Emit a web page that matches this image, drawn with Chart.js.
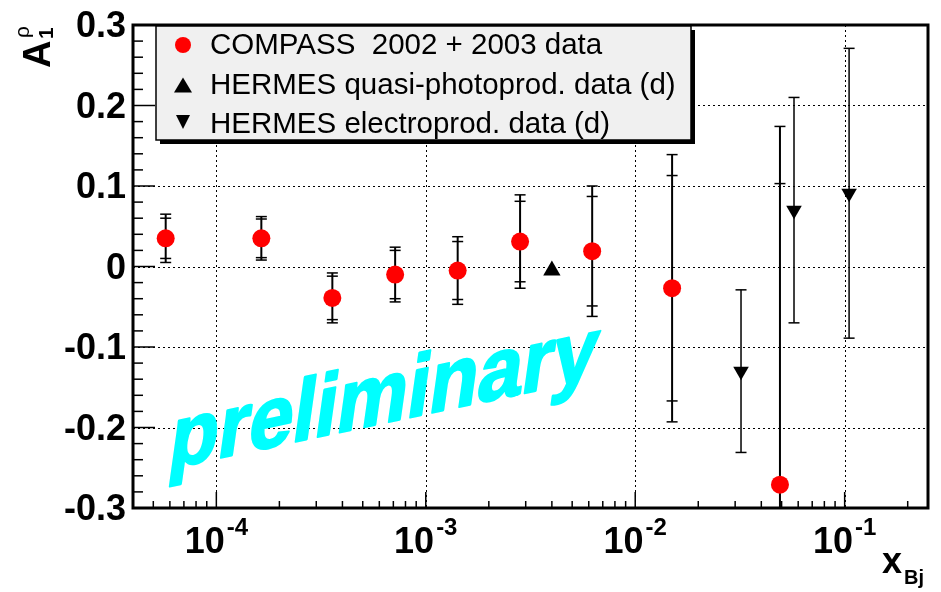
<!DOCTYPE html>
<html>
<head>
<meta charset="utf-8">
<script src="https://cdn.jsdelivr.net/npm/chart.js@4"></script>
<style>
  html, body { margin: 0; padding: 0; background: #fff; }
  canvas { display: block; }
</style>
</head>
<body>
<canvas id="chart" width="941" height="592"></canvas>
<script>
// COMPASS 2002 + 2003 (x, A1, erro estatístico, erro total)
const compassX = [5.73e-5, 1.64e-4, 3.58e-4, 7.14e-4, 1.42e-3, 2.82e-3, 6.23e-3, 1.50e-2, 4.91e-2];
const compassY = [0.035, 0.035, -0.039, -0.010, -0.005, 0.031, 0.019, -0.027, -0.271];
const compassStat = [0.025, 0.024, 0.027, 0.030, 0.036, 0.050, 0.068, 0.140, 0.374];
const compassTot = [0.030, 0.027, 0.031, 0.034, 0.042, 0.058, 0.081, 0.166, 0.445];

// HERMES quasi-photoprod.
const hermesPhotoX = [4.0e-3];
const hermesPhotoY = [-0.005];

// HERMES electroprod.
const hermesElX = [0.032, 0.0573, 0.105];
const hermesElY = [-0.130, 0.070, 0.091];
const hermesElErr = [0.101, 0.140, 0.180];

// Eixos
const yTicks = [-0.3, -0.2, -0.1, 0, 0.1, 0.2, 0.3];
const yTickLabels = ['-0.3', '-0.2', '-0.1', '0', '0.1', '0.2', '0.3'];
const xTicks = [1e-4, 1e-3, 1e-2, 1e-1];
const xTickExp = ['-4', '-3', '-2', '-1'];

const legendLabels = ['COMPASS  2002 + 2003 data', 'HERMES quasi-photoprod. data (d)', 'HERMES electroprod. data (d)'];

const FONT = '"Liberation Sans", Arial, Helvetica, sans-serif';

function toPoints(xs, ys) {
  return xs.map((x, i) => ({ x: x, y: ys[i] }));
}

// Barra de erro vertical com traços nas pontas
function errorBar(ctx, px, py, x, y, errs, lw) {
  const cx = px.getPixelForValue(x);
  const top = py.getPixelForValue(y + Math.max(...errs));
  const bot = py.getPixelForValue(y - Math.max(...errs));
  ctx.lineWidth = lw;
  ctx.beginPath();
  ctx.moveTo(cx, top);
  ctx.lineTo(cx, bot);
  ctx.stroke();
  ctx.lineWidth = 1.5;
  errs.forEach(e => {
    [y + e, y - e].forEach(v => {
      const yy = py.getPixelForValue(v);
      ctx.beginPath();
      ctx.moveTo(cx - 5.5, yy);
      ctx.lineTo(cx + 5.5, yy);
      ctx.stroke();
    });
  });
}

const rootStyle = {
  id: 'rootStyle',
  beforeDraw(chart) {
    const ctx = chart.ctx;
    ctx.save();
    ctx.fillStyle = '#fff';
    ctx.fillRect(0, 0, chart.width, chart.height);
    ctx.restore();
  },
  beforeDatasetsDraw(chart) {
    const { ctx, chartArea: a, scales: { x, y } } = chart;
    ctx.save();
    // grade pontilhada
    ctx.strokeStyle = '#000';
    ctx.lineWidth = 1;
    ctx.setLineDash([2, 3]);
    xTicks.forEach(v => {
      const px = Math.round(x.getPixelForValue(v)) + 0.5;
      ctx.beginPath();
      ctx.moveTo(px, a.top);
      ctx.lineTo(px, a.bottom);
      ctx.stroke();
    });
    yTicks.slice(1, -1).forEach(v => {
      const py = Math.round(y.getPixelForValue(v)) + 0.5;
      ctx.beginPath();
      ctx.moveTo(a.left, py);
      ctx.lineTo(a.right, py);
      ctx.stroke();
    });
    ctx.setLineDash([]);

    // texto "preliminary"
    ctx.save();
    const th = 12 * Math.PI / 180, ph = 8 * Math.PI / 180, sx = 0.9;
    ctx.setTransform(sx * Math.cos(th), -sx * Math.sin(th), -Math.sin(ph), Math.cos(ph), 167, 469);
    ctx.fillStyle = '#00ffff';
    ctx.strokeStyle = '#00ffff';
    ctx.lineWidth = 2.5;
    ctx.lineJoin = 'round';
    ctx.font = 'bold 90px ' + FONT;
    ctx.textBaseline = 'alphabetic';
    ctx.strokeText('preliminary', 0, 0);
    ctx.fillText('preliminary', 0, 0);
    ctx.restore();

    // barras de erro
    ctx.beginPath();
    ctx.rect(a.left, a.top, a.right - a.left, a.bottom - a.top);
    ctx.clip();
    ctx.strokeStyle = '#000';
    compassX.forEach((v, i) => {
      errorBar(ctx, x, y, v, compassY[i], [compassStat[i], compassTot[i]], 2);
    });
    hermesElX.forEach((v, i) => {
      errorBar(ctx, x, y, v, hermesElY[i], [hermesElErr[i]], 1.5);
    });
    ctx.restore();
  },
  afterDatasetsDraw(chart) {
    const { ctx, chartArea: a, scales: { x, y } } = chart;
    ctx.save();
    ctx.strokeStyle = '#000';
    ctx.fillStyle = '#000';

    // marcas do eixo y
    ctx.lineWidth = 1.5;
    for (let k = -15; k <= 15; k++) {
      const v = k * 0.02;
      const py = y.getPixelForValue(v);
      const len = (k % 5 === 0) ? 22 : 10;
      ctx.beginPath();
      ctx.moveTo(a.left, py);
      ctx.lineTo(a.left + len, py);
      ctx.stroke();
    }
    // marcas do eixo x
    for (let n = -5; n <= 0; n++) {
      for (let m = 1; m <= 9; m++) {
        const v = m * Math.pow(10, n);
        if (v < x.min || v > x.max) continue;
        const px = x.getPixelForValue(v);
        const len = m === 1 ? 16 : 7;
        ctx.beginPath();
        ctx.moveTo(px, a.bottom);
        ctx.lineTo(px, a.bottom - len);
        ctx.stroke();
      }
    }

    // moldura
    ctx.lineWidth = 3;
    ctx.strokeRect(a.left, a.top, a.right - a.left, a.bottom - a.top);

    // rótulos y
    ctx.font = 'bold 36px ' + FONT;
    ctx.textAlign = 'right';
    ctx.textBaseline = 'alphabetic';
    yTicks.forEach((v, i) => {
      ctx.fillText(yTickLabels[i], 126, y.getPixelForValue(v) + 12);
    });

    // rótulos x (10^n)
    ctx.textAlign = 'left';
    xTicks.forEach((v, i) => {
      const px = x.getPixelForValue(v);
      ctx.font = 'bold 36px ' + FONT;
      const w1 = ctx.measureText('10').width;
      ctx.font = 'bold 24px ' + FONT;
      const w2 = ctx.measureText(xTickExp[i]).width;
      const start = px - (w1 + w2 + 2) / 2;
      ctx.font = 'bold 36px ' + FONT;
      ctx.fillText('10', start, 553);
      ctx.font = 'bold 24px ' + FONT;
      ctx.fillText(xTickExp[i], start + w1 + 2, 535);
    });

    // título x
    ctx.font = 'bold 36px ' + FONT;
    ctx.fillText('x', 882, 573);
    ctx.font = 'bold 20px ' + FONT;
    ctx.fillText('Bj', 904, 584);

    // título y (A_1^rho) girado
    ctx.save();
    ctx.translate(50, 68);
    ctx.rotate(-Math.PI / 2);
    ctx.font = 'bold 38px ' + FONT;
    ctx.fillText('A', 0, 0);
    ctx.font = 'bold 21px ' + FONT;
    ctx.fillText('1', 29, 3);
    ctx.font = '21px ' + FONT;
    ctx.fillText('\u03c1', 30, -21);
    ctx.restore();

    // legenda
    const L = 156, T = 26, R = 691, B = 140;
    ctx.fillStyle = '#000';
    ctx.fillRect(L + 4, T + 4, R - L, B - T);
    ctx.fillStyle = '#f0f0f0';
    ctx.fillRect(L, T, R - L, B - T);
    ctx.lineWidth = 1.5;
    ctx.strokeRect(L, T, R - L, B - T);

    ctx.fillStyle = '#ff0000';
    ctx.beginPath();
    ctx.arc(183, 45, 8, 0, Math.PI * 2);
    ctx.fill();
    ctx.fillStyle = '#000';
    ctx.beginPath();
    ctx.moveTo(174, 92.5); ctx.lineTo(192, 92.5); ctx.lineTo(183, 77.5);
    ctx.closePath();
    ctx.fill();
    ctx.beginPath();
    ctx.moveTo(176, 115); ctx.lineTo(190, 115); ctx.lineTo(183, 129);
    ctx.closePath();
    ctx.fill();

    ctx.font = '29.5px ' + FONT;
    ctx.textAlign = 'left';
    [54, 94, 132.5].forEach((by, i) => ctx.fillText(legendLabels[i], 210, by));

    ctx.restore();
  }
};

new Chart(document.getElementById('chart'), {
  type: 'scatter',
  data: {
    datasets: [
      {
        label: legendLabels[0],
        data: toPoints(compassX, compassY),
        pointStyle: 'circle',
        pointRadius: 9,
        backgroundColor: '#ff0000',
        borderWidth: 0
      },
      {
        label: legendLabels[1],
        data: toPoints(hermesPhotoX, hermesPhotoY),
        pointStyle: 'triangle',
        pointRadius: 10,
        backgroundColor: '#000',
        borderWidth: 0
      },
      {
        label: legendLabels[2],
        data: toPoints(hermesElX, hermesElY),
        pointStyle: 'triangle',
        rotation: 180,
        pointRadius: 9,
        backgroundColor: '#000',
        borderWidth: 0
      }
    ]
  },
  options: {
    responsive: false,
    animation: false,
    devicePixelRatio: 1,
    layout: { padding: { left: 133, right: 13, top: 25, bottom: 84 } },
    plugins: { legend: { display: false }, tooltip: { enabled: false } },
    scales: {
      x: {
        type: 'logarithmic', min: 4.0e-5, max: 0.25,
        ticks: { display: false },
        grid: { display: false, drawTicks: false },
        border: { display: false }
      },
      y: {
        min: -0.3, max: 0.3,
        ticks: { display: false },
        grid: { display: false, drawTicks: false },
        border: { display: false }
      }
    }
  },
  plugins: [rootStyle]
});
</script>
</body>
</html>
